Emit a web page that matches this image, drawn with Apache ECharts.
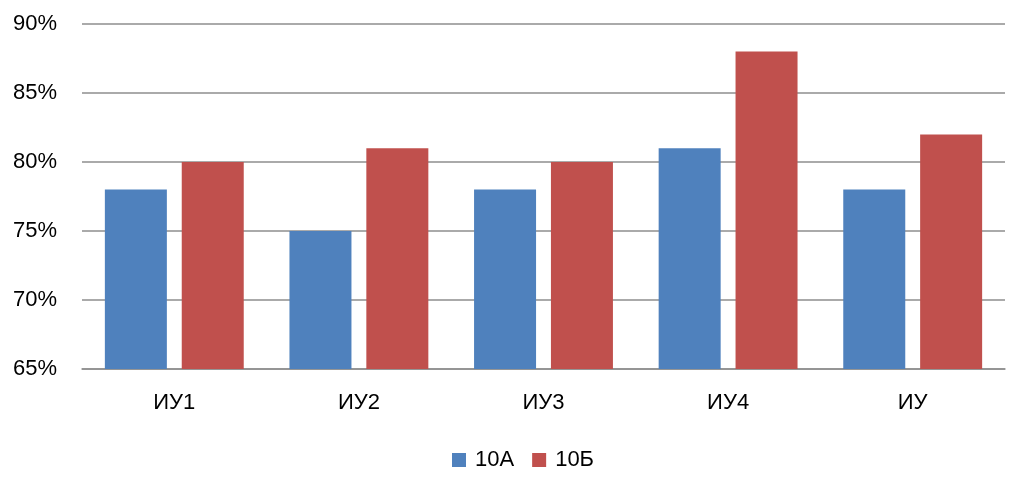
<!DOCTYPE html>
<html>
<head>
<meta charset="utf-8">
<script src="https://cdn.jsdelivr.net/npm/echarts@6/dist/echarts.min.js"></script>
<style>html,body{margin:0;padding:0;background:#fff}#c{width:1014px;height:492px}</style>
</head>
<body>
<div id="c"></div>
<script>
var categories = ['ИУ1', 'ИУ2', 'ИУ3', 'ИУ4', 'ИУ'];
var seriesNames = ['10А', '10Б'];
var values10A = [78, 75, 78, 81, 78];
var values10B = [80, 81, 80, 88, 82];
var yTicks = { min: 65, max: 90, interval: 5 };

var chart = echarts.init(document.getElementById('c'), null, { renderer: 'canvas' });
var font = '"Liberation Sans", Arial, sans-serif';
chart.setOption({
  animation: false,
  textStyle: { fontFamily: font },
  grid: { left: 82, right: 9, top: 24, bottom: 123, containLabel: false },
  legend: {
    data: seriesNames,
    top: 444,
    left: 447,
    itemWidth: 14,
    itemHeight: 14,
    itemGap: 18,
    icon: 'rect',
    textStyle: { fontSize: 22, color: '#000', fontFamily: font, padding: [0, 0, 0, 4] }
  },
  xAxis: {
    type: 'category',
    data: categories,
    axisTick: { show: false },
    axisLine: { show: true, lineStyle: { color: '#8e8e8e', width: 1.5 } },
    axisLabel: { fontSize: 22, color: '#000', margin: 23, fontFamily: font }
  },
  yAxis: {
    type: 'value',
    min: yTicks.min,
    max: yTicks.max,
    interval: yTicks.interval,
    axisLine: { show: false },
    axisTick: { show: false },
    splitLine: { show: true, lineStyle: { color: '#8e8e8e', width: 1.5 } },
    axisLabel: { fontSize: 22, color: '#000', margin: 25, fontFamily: font, formatter: '{value}%' }
  },
  series: [
    { name: seriesNames[0], type: 'bar', data: values10A, barWidth: 62, barGap: '24%', itemStyle: { color: '#4F81BD' } },
    { name: seriesNames[1], type: 'bar', data: values10B, barWidth: 62, barGap: '24%', itemStyle: { color: '#C0504D' } }
  ]
});
</script>
</body>
</html>
